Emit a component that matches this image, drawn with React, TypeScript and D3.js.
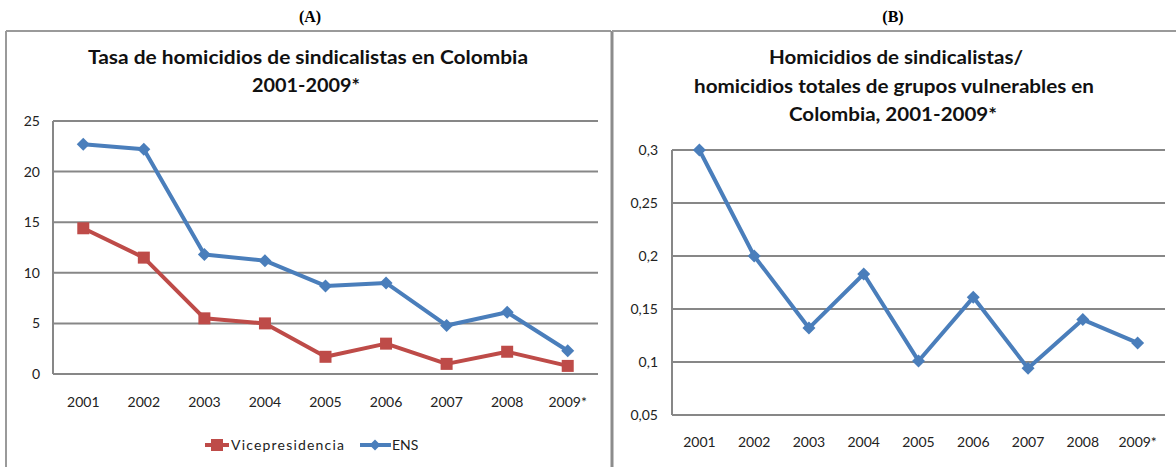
import React from "react";
import * as d3 from "d3";

const years = ["2001", "2002", "2003", "2004", "2005", "2006", "2007", "2008", "2009*"];
const ensValues = [22.7, 22.2, 11.8, 11.2, 8.7, 9.0, 4.8, 6.1, 2.3];
const viceValues = [14.4, 11.5, 5.5, 5.0, 1.7, 3.0, 1.0, 2.2, 0.8];
const ratioValues = [0.3, 0.2, 0.132, 0.183, 0.101, 0.161, 0.094, 0.14, 0.118];
const leftTicks = [0, 5, 10, 15, 20, 25];
const rightTicks = [0.05, 0.1, 0.15, 0.2, 0.25, 0.3];

const BLUE = "#4A7EBB";
const RED = "#BE4B48";
const GRID = "#878787";
const FONT = "Lato, 'Open Sans', sans-serif";
const TICK = 14;

function Diamond({ x, y, s = 6.5 }: { x: number; y: number; s?: number }) {
  return <path d={`M${x},${y - s}L${x + s},${y}L${x},${y + s}L${x - s},${y}Z`} fill={BLUE} />;
}
function Square({ x, y, s = 6 }: { x: number; y: number; s?: number }) {
  return <rect x={x - s} y={y - s} width={2 * s} height={2 * s} fill={RED} />;
}

export default function App() {
  const xL = d3.scaleBand().domain(years).range([53, 598]);
  const yL = d3.scaleLinear().domain([0, 25]).range([374, 121]);
  const xR = d3.scaleBand().domain(years).range([672, 1165]);
  const yR = d3.scaleLinear().domain([0.05, 0.3]).range([415, 150]);

  const cx = (sc: d3.ScaleBand<string>, d: string) => (sc(d) as number) + sc.bandwidth() / 2;

  const lineL = (vals: number[]) =>
    d3.line<number>().x((_, i) => cx(xL, years[i])).y((v) => yL(v))(vals) as string;
  const lineR = d3.line<number>().x((_, i) => cx(xR, years[i])).y((v) => yR(v))(ratioValues) as string;

  const fmt = (v: number) => String(v).replace(".", ",");
  const titleProps = {
    textAnchor: "middle" as const,
    fontFamily: FONT,
    fontWeight: "bold",
    fontSize: 18,
    lengthAdjust: "spacingAndGlyphs" as const,
    fill: "#111",
  };

  return (
    <svg width={1176} height={467} style={{ position: "absolute", left: 0, top: 0, background: "#fff" }}>
      <line x1={6} y1={31} x2={611} y2={31} stroke="#9a9a9a" strokeWidth={2} />
      <line x1={6} y1={31} x2={6} y2={467} stroke="#9a9a9a" strokeWidth={2} />
      <line x1={612} y1={31} x2={612} y2={467} stroke="#8c8c8c" strokeWidth={3} />
      <line x1={612} y1={31} x2={1176} y2={31} stroke="#9a9a9a" strokeWidth={2} />

      <text x={310} y={22} textAnchor="middle" fontFamily="'Liberation Serif', 'Times New Roman', serif" fontWeight="bold" fontSize={16}>(A)</text>
      <text x={893} y={22} textAnchor="middle" fontFamily="'Liberation Serif', 'Times New Roman', serif" fontWeight="bold" fontSize={16}>(B)</text>

      <text x={308} y={64} {...titleProps} textLength={440}>Tasa de homicidios de sindicalistas en Colombia</text>
      <text x={306} y={92} {...titleProps} textLength={108}>2001-2009*</text>

      {leftTicks.map((t) => (
        <g key={t}>
          <line x1={53} x2={598} y1={yL(t)} y2={yL(t)} stroke={GRID} strokeWidth={2} />
          <text x={40} y={yL(t) + 5} textAnchor="end" fontFamily={FONT} fontSize={TICK} fill="#222">{t}</text>
        </g>
      ))}
      <line x1={53} x2={53} y1={yL(25)} y2={yL(0)} stroke={GRID} strokeWidth={2} />
      {years.map((d) => (
        <text key={d} x={cx(xL, d)} y={407} textAnchor="middle" fontFamily={FONT} fontSize={TICK} fill="#222">{d}</text>
      ))}

      <path d={lineL(viceValues)} fill="none" stroke={RED} strokeWidth={4} strokeLinejoin="round" />
      <path d={lineL(ensValues)} fill="none" stroke={BLUE} strokeWidth={4} strokeLinejoin="round" />
      {viceValues.map((v, i) => <Square key={"v" + i} x={cx(xL, years[i])} y={yL(v)} />)}
      {ensValues.map((v, i) => <Diamond key={"e" + i} x={cx(xL, years[i])} y={yL(v)} />)}

      <line x1={205} x2={229} y1={445} y2={445} stroke={RED} strokeWidth={4} />
      <Square x={217} y={445} />
      <text x={231} y={450} fontFamily={FONT} fontSize={TICK} fill="#222" textLength={113} lengthAdjust="spacing">Vicepresidencia</text>
      <line x1={360} x2={391} y1={445} y2={445} stroke={BLUE} strokeWidth={4} />
      <Diamond x={375} y={445} s={5.5} />
      <text x={392} y={450} fontFamily={FONT} fontSize={TICK} fill="#222">ENS</text>

      <text x={896} y={64} {...titleProps} textLength={254}>Homicidios de sindicalistas/</text>
      <text x={894} y={93} {...titleProps} textLength={400}>homicidios totales de grupos vulnerables en</text>
      <text x={893} y={121} {...titleProps} textLength={208}>Colombia, 2001-2009*</text>

      {rightTicks.map((t) => (
        <g key={t}>
          <line x1={672} x2={1165} y1={yR(t)} y2={yR(t)} stroke={GRID} strokeWidth={2} />
          <text x={658} y={yR(t) + 5} textAnchor="end" fontFamily={FONT} fontSize={TICK} fill="#222">{fmt(t)}</text>
        </g>
      ))}
      <line x1={672} x2={672} y1={yR(0.3)} y2={yR(0.05)} stroke={GRID} strokeWidth={2} />
      {years.map((d) => (
        <text key={d} x={cx(xR, d)} y={447} textAnchor="middle" fontFamily={FONT} fontSize={TICK} fill="#222">{d}</text>
      ))}
      <path d={lineR} fill="none" stroke={BLUE} strokeWidth={4} strokeLinejoin="round" />
      {ratioValues.map((v, i) => <Diamond key={"r" + i} x={cx(xR, years[i])} y={yR(v)} />)}
    </svg>
  );
}
